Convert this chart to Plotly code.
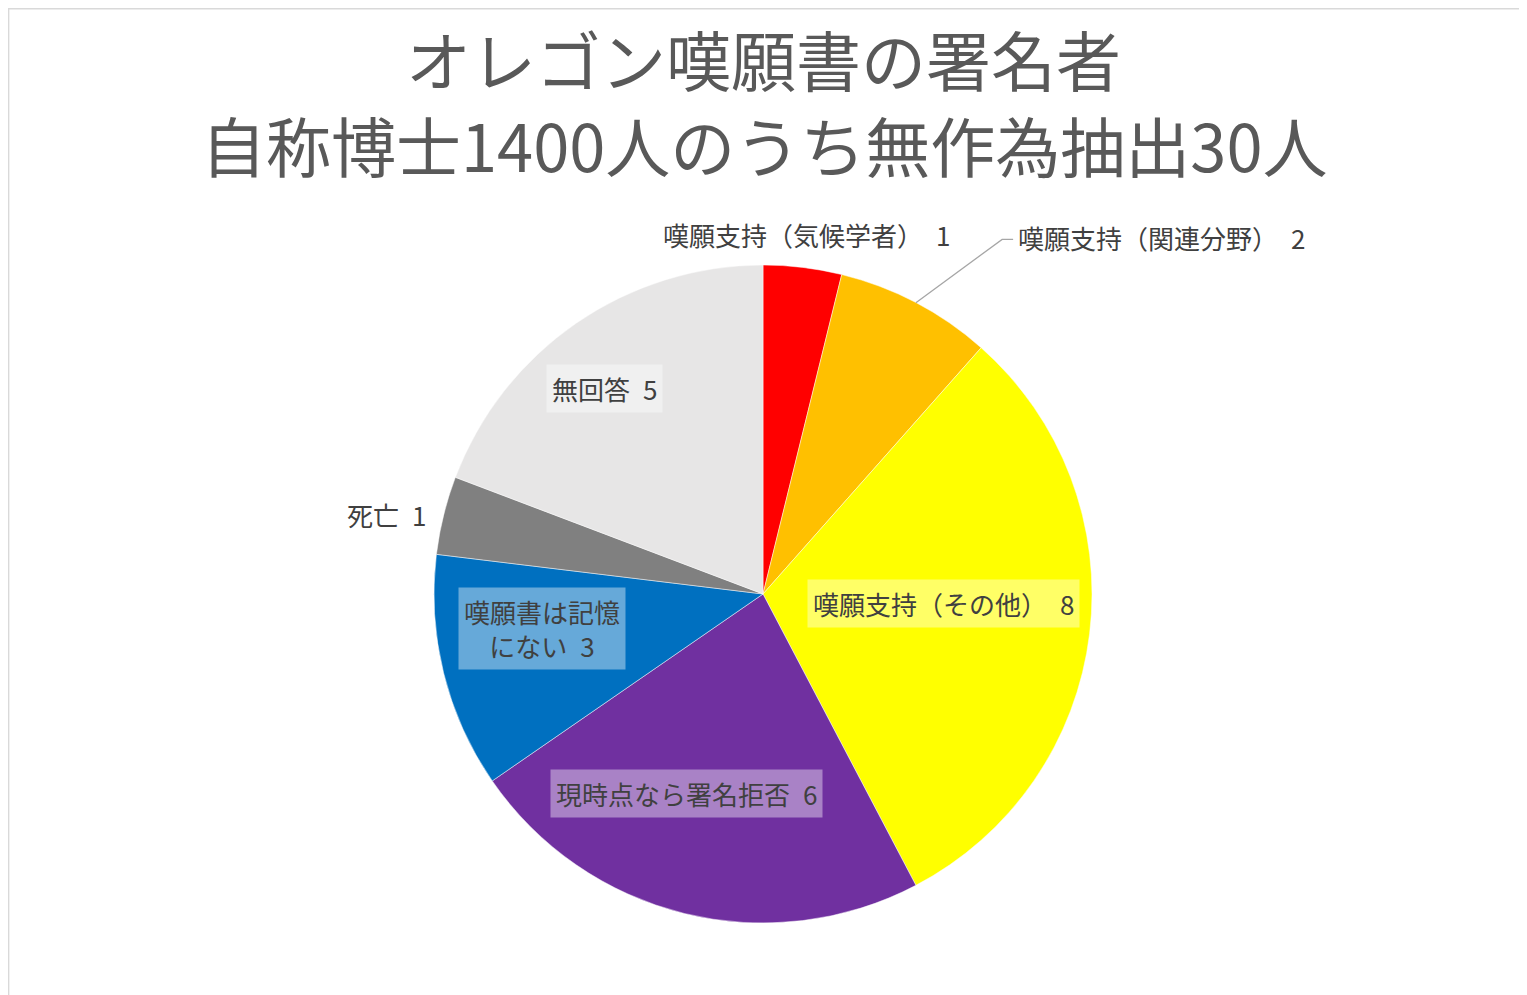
import math
import plotly.graph_objects as go

# the page body has an 8px margin, so the figure is drawn 8px smaller and shifted
OFF = 8
W, H = 1527 - OFF, 995 - OFF

names = [
    "嘆願支持（気候学者）",
    "嘆願支持（関連分野）",
    "嘆願支持（その他）",
    "現時点なら署名拒否",
    "嘆願書は記憶<br>にない",
    "死亡",
    "無回答",
]
counts = [1, 2, 8, 6, 3, 1, 5]
colors = ["#FF0000", "#FFC000", "#FFFF00", "#7030A0", "#0070C0", "#808080", "#E7E6E6"]

title_lines = ["オレゴン嘆願書の署名者", "自称博士1400人のうち無作為抽出30人"]

# label placement: radius as a fraction of pie radius, angle nudge in degrees
label_r = [1.10, None, 0.55, 0.65, 0.68, 1.17, 0.79]
label_nudge = [0, 0, -4, 7, 5, -2, -3]
label_box = [False, False, True, True, True, False, True]

FONT = "Noto Sans CJK JP"

# pie geometry in pixels (page coordinates)
cx, cy, R = 763 - OFF, 594 - OFF, 329

fig = go.Figure()
fig.add_trace(go.Pie(
    labels=[n.replace("<br>", "") for n in names],
    values=counts,
    sort=False,
    direction="clockwise",
    rotation=0,
    marker=dict(colors=colors, line=dict(color="rgba(255,255,255,0.6)", width=0.8)),
    textinfo="none",
    hoverinfo="label+value",
    showlegend=False,
    domain=dict(x=[(cx - R) / W, (cx + R) / W], y=[(H - cy - R) / H, (H - cy + R) / H]),
))


def px_to_paper(x, y):
    return x / W, (H - y) / H


total = sum(counts)
annotations = []
shapes = []
acc = 0
for i, (name, v) in enumerate(zip(names, counts)):
    mid = (acc + v / 2) / total * 360
    acc += v
    text = f"{name}\u2002{v}"
    if label_r[i] is None:
        # outside label with leader line
        a = math.radians(mid)
        ex, ey = cx + R * math.sin(a), cy - R * math.cos(a)
        b = math.radians(mid + 6.3)
        kx, ky = cx + 1.30 * R * math.sin(b), cy - 1.30 * R * math.cos(b)
        p0 = px_to_paper(ex, ey)
        p1 = px_to_paper(kx, ky)
        p2 = px_to_paper(kx + 11, ky)
        shapes.append(dict(type="path", xref="paper", yref="paper",
                           path=f"M {p0[0]} {p0[1]} L {p1[0]} {p1[1]} L {p2[0]} {p2[1]}",
                           line=dict(color="#A6A6A6", width=1.3)))
        lx, ly = px_to_paper(kx + 14, ky - 2)
        annotations.append(dict(x=lx, y=ly, xref="paper", yref="paper", text=text,
                                showarrow=False, xanchor="left", yanchor="middle",
                                font=dict(family=FONT, size=26, color="#404040")))
        continue
    a = math.radians(mid + label_nudge[i])
    lx, ly = px_to_paper(cx + label_r[i] * R * math.sin(a), cy - label_r[i] * R * math.cos(a))
    annotations.append(dict(
        x=lx, y=ly, xref="paper", yref="paper", text=text, showarrow=False,
        xanchor="center", yanchor="middle", align="center",
        bgcolor="rgba(255,255,255,0.4)" if label_box[i] else None,
        borderpad=5,
        font=dict(family=FONT, size=26, color="#404040"),
    ))

# chart title
for line, ty in zip(title_lines, [62, 148]):
    annotations.append(dict(x=(763.5 - OFF) / W, y=(H - (ty - OFF - 4)) / H, xref="paper", yref="paper",
                            text=line, showarrow=False, xanchor="center", yanchor="middle",
                            font=dict(family=FONT, size=65, color="#595959")))

# chart area border
shapes.append(dict(type="rect", xref="paper", yref="paper", x0=0.0004, x1=0.9993, y0=-0.05, y1=0.9992,
                   line=dict(color="#D9D9D9", width=1.5)))

fig.update_layout(
    width=W, height=H,
    margin=dict(l=0, r=0, t=0, b=0),
    paper_bgcolor="white",
    plot_bgcolor="white",
    annotations=annotations,
    shapes=shapes,
    font=dict(family=FONT),
)

fig.write_html("out.html")
